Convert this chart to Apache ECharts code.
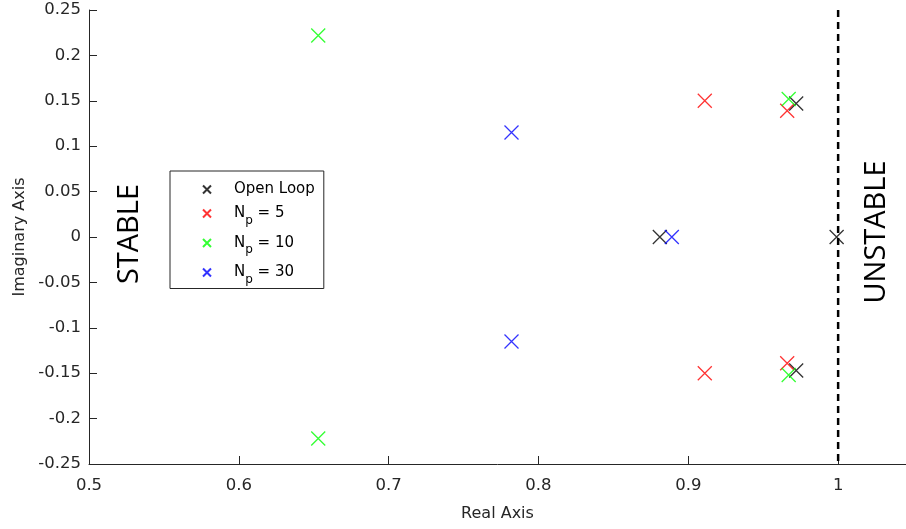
<!DOCTYPE html>
<html>
<head>
<meta charset="utf-8">
<script src="https://cdn.jsdelivr.net/npm/echarts@6/dist/echarts.min.js"></script>
<style>
  html, body { margin: 0; padding: 0; background: #fff; }
  #chart { width: 906px; height: 529px; }
</style>
</head>
<body>
<div id="chart"></div>
<script>
// Pole locations [real, imaginary] for each controller configuration
const openLoop = [[0.972, 0.147], [0.972, -0.147], [0.881, 0], [0.999, 0]];
const np5 = [[0.911, 0.150], [0.911, -0.150], [0.966, 0.139], [0.966, -0.139]];
const np10 = [[0.653, 0.222], [0.653, -0.222], [0.967, 0.152], [0.967, -0.152]];
const np30 = [[0.782, 0.115], [0.782, -0.115], [0.889, 0]];

const seriesNames = ['Open Loop', 'N_p = 5', 'N_p = 10', 'N_p = 30'];
const seriesColors = ['#000000', '#ff0000', '#00ff00', '#0000ff'];
const seriesData = [openLoop, np5, np10, np30];

// Stability boundary (unit circle crossing on the real axis)
const boundary = [[1, 0.25], [1, -0.25]];

const xTicks = { min: 0.5, max: 1.0453, interval: 0.1 };
const yTicks = { min: -0.25, max: 0.25, interval: 0.05 };

const cross = 'path://M0,0L10,10M10,0L0,10';
const font = '"DejaVu Sans", sans-serif';
const ink = '#262626';

const chart = echarts.init(document.getElementById('chart'), null, { renderer: 'canvas' });

const series = seriesData.map((d, i) => ({
  name: seriesNames[i],
  type: 'scatter',
  data: d,
  symbol: cross,
  symbolSize: 14,
  itemStyle: { color: 'rgba(0,0,0,0)', borderColor: seriesColors[i], borderWidth: 1.3 },
  emphasis: { disabled: true },
  z: 3
}));

series.push({
  name: 'boundary',
  type: 'line',
  data: boundary,
  symbol: 'none',
  lineStyle: { color: '#000', width: 2.5, type: [7, 5] },
  silent: true,
  z: 2
});

chart.setOption({
  animation: false,
  grid: { left: 89, right: 0, top: 10, bottom: 65, containLabel: false },
  xAxis: {
    type: 'value',
    min: xTicks.min, max: xTicks.max, interval: xTicks.interval,
    name: 'Real Axis', nameLocation: 'middle', nameGap: 42,
    nameTextStyle: { fontFamily: font, fontSize: 16, color: ink },
    axisLine: { onZero: false, lineStyle: { color: ink, width: 1 } },
    axisTick: { inside: true, length: 8, lineStyle: { color: ink } },
    axisLabel: { fontFamily: font, fontSize: 16.5, color: ink, margin: 13, showMaxLabel: false },
    splitLine: { show: false }
  },
  yAxis: {
    type: 'value',
    min: yTicks.min, max: yTicks.max, interval: yTicks.interval,
    name: 'Imaginary Axis', nameLocation: 'middle', nameGap: 60,
    nameTextStyle: { fontFamily: font, fontSize: 16, color: ink },
    axisLine: { show: true, onZero: false, lineStyle: { color: ink, width: 1 } },
    axisTick: { show: true, inside: true, length: 8, lineStyle: { color: ink } },
    axisLabel: { fontFamily: font, fontSize: 16.5, color: ink, margin: 8 },
    splitLine: { show: false }
  },
  legend: {
    data: seriesNames,
    orient: 'vertical',
    left: 170, top: 171,
    padding: [11, 9, 3, 32],
    itemGap: 9,
    itemWidth: 8, itemHeight: 8,
    borderColor: ink, borderWidth: 1, borderRadius: 0,
    backgroundColor: '#fff',
    selectedMode: false,
    formatter: function (name) {
      if (name.indexOf('N_p') === 0) {
        return '{n|N}{sub|p}{n|' + name.slice(3) + '}';
      }
      return '{n|' + name + '}';
    },
    textStyle: {
      padding: [0, 0, 0, 18],
      rich: {
        n: { fontFamily: font, fontSize: 15, color: '#000' },
        sub: { fontFamily: font, fontSize: 12, color: '#000', padding: [14, 0, 0, 0] }
      }
    }
  },
  graphic: [
    {
      type: 'text', x: 130, y: 234, rotation: Math.PI / 2,
      style: { text: 'STABLE', font: '29px "Open Sans", sans-serif', fill: '#000', textAlign: 'center', textVerticalAlign: 'middle' }
    },
    {
      type: 'text', x: 877, y: 232, rotation: Math.PI / 2,
      style: { text: 'UNSTABLE', font: '29px "Open Sans", sans-serif', fill: '#000', textAlign: 'center', textVerticalAlign: 'middle' }
    }
  ],
  series: series
});
</script>
</body>
</html>
